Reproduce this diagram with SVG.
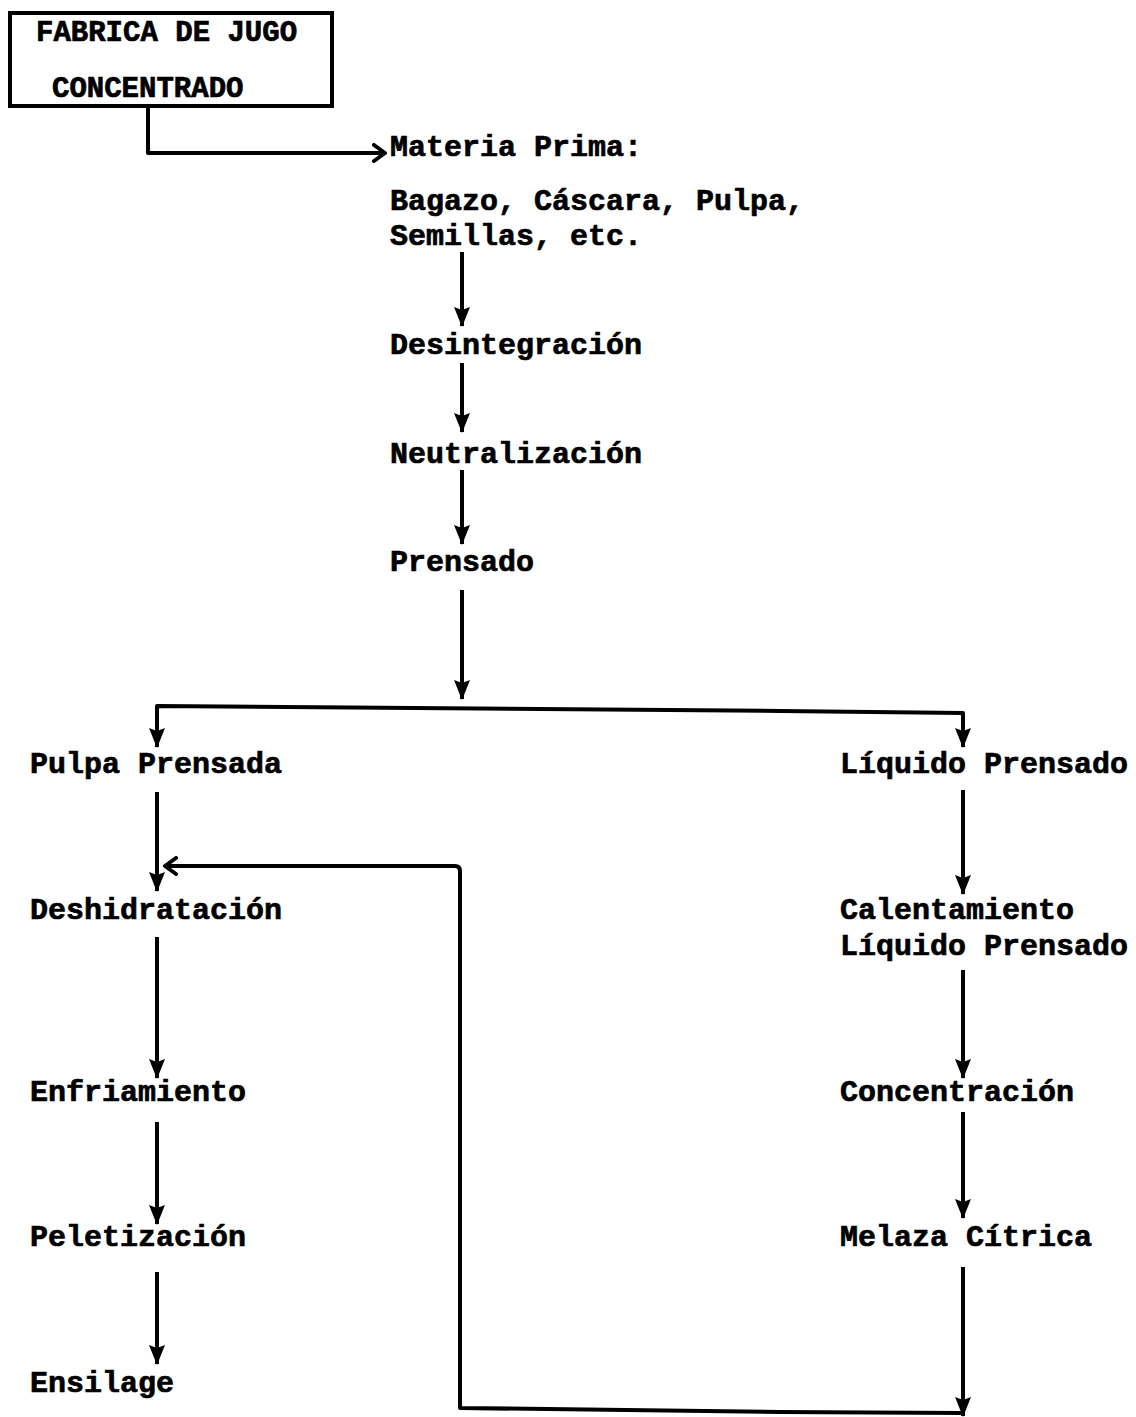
<svg xmlns="http://www.w3.org/2000/svg" width="1136" height="1417" viewBox="0 0 1136 1417">
<style>
.t{font-family:"Liberation Mono","DejaVu Sans Mono",monospace;font-weight:bold;font-size:30px;fill:#000;stroke:#000;stroke-width:0.7}
.h{font-size:29px}
.c{fill:none;stroke:#000;stroke-width:4;stroke-linejoin:round;stroke-linecap:butt}
.a{marker-end:url(#fa)}
</style>
<defs>
<marker id="fa" viewBox="0 0 20 16" refX="19" refY="8" markerWidth="20" markerHeight="16" markerUnits="userSpaceOnUse" orient="auto-start-reverse">
<path d="M0,0 L20,8 L0,16 L3,8 Z" fill="#000"/>
</marker>
<marker id="oa" viewBox="0 0 16 20" refX="13" refY="10" markerWidth="16" markerHeight="20" markerUnits="userSpaceOnUse" orient="auto">
<path d="M2,2 L13,10 L2,18" fill="none" stroke="#000" stroke-width="4" stroke-linecap="round" stroke-linejoin="round"/>
</marker>
</defs>
<rect width="1136" height="1417" fill="#fff"/>
<g id="connectors">
<path class="c" d="M148,106 V153 H385" marker-end="url(#oa)"/>
<path class="c a" d="M462,252 V326"/>
<path class="c a" d="M462,363 V432"/>
<path class="c a" d="M462,470 V544"/>
<path class="c a" d="M462,590 V699"/>
<path class="c" d="M157,747 V706 L780,711 L963,713 V747" marker-start="url(#fa)" marker-end="url(#fa)"/>
<path class="c a" d="M157,792 V891"/>
<path class="c a" d="M157,937 V1078"/>
<path class="c a" d="M157,1122 V1224"/>
<path class="c a" d="M157,1272 V1364"/>
<path class="c a" d="M963,790 V894"/>
<path class="c a" d="M963,970 V1078"/>
<path class="c a" d="M963,1112 V1218"/>
<path class="c a" d="M963,1267 V1416"/>
<path class="c" d="M963,1413 L780,1412 L460,1408 V871 Q460,866 455,866 H165" marker-end="url(#oa)"/>
</g>
<g id="n-fabrica">
<rect x="10" y="13" width="322" height="93" fill="none" stroke="#000" stroke-width="4"/>
<text class="t h" x="36" y="41">FABRICA DE JUGO</text>
<text class="t h" x="52" y="97">CONCENTRADO</text>
</g>
<g id="n-materia">
<text class="t" x="390" y="156">Materia Prima:</text>
<text class="t" x="390" y="210">Bagazo, Cáscara, Pulpa,</text>
<text class="t" x="390" y="245">Semillas, etc.</text>
</g>
<g id="n-desintegracion"><text class="t" x="390" y="354">Desintegración</text></g>
<g id="n-neutralizacion"><text class="t" x="390" y="463">Neutralización</text></g>
<g id="n-prensado"><text class="t" x="390" y="571">Prensado</text></g>
<g id="n-pulpa"><text class="t" x="30" y="773">Pulpa Prensada</text></g>
<g id="n-deshidratacion"><text class="t" x="30" y="919">Deshidratación</text></g>
<g id="n-enfriamiento"><text class="t" x="30" y="1101">Enfriamiento</text></g>
<g id="n-peletizacion"><text class="t" x="30" y="1246">Peletización</text></g>
<g id="n-ensilage"><text class="t" x="30" y="1392">Ensilage</text></g>
<g id="n-liquido"><text class="t" x="840" y="773">Líquido Prensado</text></g>
<g id="n-calentamiento">
<text class="t" x="840" y="919">Calentamiento</text>
<text class="t" x="840" y="955">Líquido Prensado</text>
</g>
<g id="n-concentracion"><text class="t" x="840" y="1101">Concentración</text></g>
<g id="n-melaza"><text class="t" x="840" y="1246">Melaza Cítrica</text></g>
</svg>
